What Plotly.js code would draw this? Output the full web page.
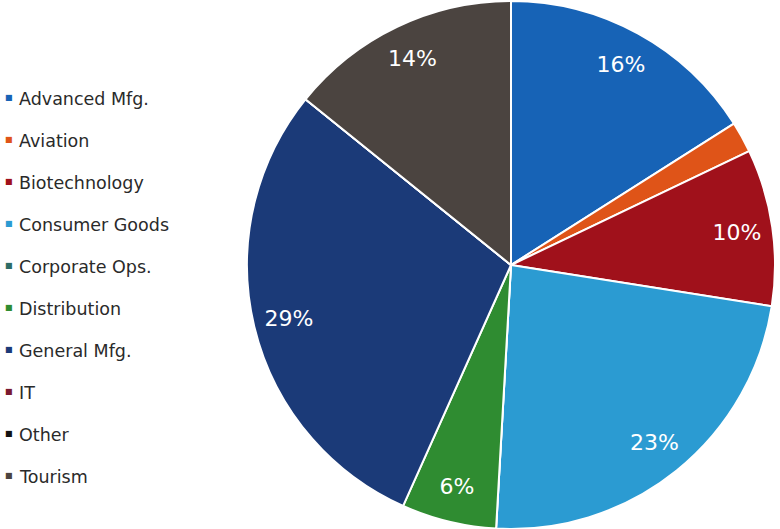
<!DOCTYPE html>
<html>
<head>
<meta charset="utf-8">
<script src="https://cdn.plot.ly/plotly-3.0.1.min.js"></script>
<style>html,body{margin:0;padding:0;background:#fff;}#chart{width:780px;height:529px;}</style>
</head>
<body>
<div id="chart"></div>
<script>
// ---- data ----
const categories = ["Advanced Mfg.", "Aviation", "Biotechnology", "Consumer Goods", "Corporate Ops.",
                    "Distribution", "General Mfg.", "IT", "Other", "Tourism"];
const shares = [16, 1.9, 9.6, 23.4, 0, 5.8, 29.1, 0, 0, 14.2];
const colors = ["#1763b6", "#df5418", "#a0111b", "#2b9bd2", "#2d6c66",
                "#2f8c31", "#1b3a78", "#7a1a30", "#111111", "#4b4440"];
const showLabel = [true, false, true, true, false, true, true, false, false, true];

// ---- layout helpers ----
const W = 780, H = 529;
const pieDomain = {x: [244 / W, 778 / W], y: [1 - 529 / H, 1 - 1 / H]};

const basePie = {
  type: "pie",
  labels: categories,
  values: shares,
  sort: false,
  direction: "clockwise",
  rotation: 0,
  domain: pieDomain,
  marker: {colors: colors, line: {color: "#ffffff", width: 2}},
  textinfo: "none",
  hoverinfo: "label+percent",
  showlegend: false
};

const labelPie = {
  type: "pie",
  labels: categories,
  values: shares,
  sort: false,
  direction: "clockwise",
  rotation: 0,
  hole: 0.73,
  domain: pieDomain,
  marker: {colors: categories.map(() => "rgba(0,0,0,0)"), line: {width: 0}},
  texttemplate: showLabel.map(s => s ? "%{percent:.0%}" : ""),
  textposition: "inside",
  insidetextorientation: "horizontal",
  textfont: {family: "DejaVu Sans", size: 22, color: "#ffffff"},
  hoverinfo: "skip",
  showlegend: false
};

const annotations = [];
categories.forEach((c, i) => {
  const y = 1 - (99 + 42 * i) / H;
  annotations.push({
    xref: "paper", yref: "paper", x: 9 / W, y: y + 0.002,
    xanchor: "center", yanchor: "middle", showarrow: false,
    text: "■", font: {family: "DejaVu Sans", size: 8, color: colors[i]}
  });
  annotations.push({
    xref: "paper", yref: "paper", x: 17 / W, y: y,
    xanchor: "left", yanchor: "middle", showarrow: false,
    text: c, font: {family: "DejaVu Sans", size: 17.5, color: "#2a2a2a"}
  });
});

const layout = {
  width: W, height: H,
  margin: {l: 0, r: 0, t: 0, b: 0},
  paper_bgcolor: "#ffffff",
  showlegend: false,
  annotations: annotations
};

Plotly.newPlot("chart", [basePie, labelPie], layout, {staticPlot: true, displayModeBar: false});
</script>
</body>
</html>
